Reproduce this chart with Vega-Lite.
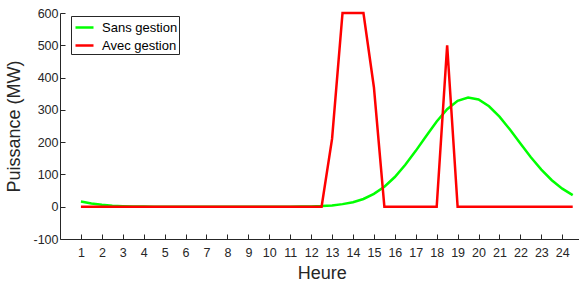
{
 "$schema": "https://vega.github.io/schema/vega-lite/v6.json",
 "width": 519, "height": 226,
 "autosize": {"type": "none"},
 "padding": {"left": 60, "top": 13, "right": 0, "bottom": 46},
 "background": "white",
 "config": {"view": {"stroke": null}, "font": "Liberation Sans"},
 "data": {"values": [
  {"h":1,"serie":"Sans gestion","p":16},{"h":1.5,"serie":"Sans gestion","p":10},{"h":2,"serie":"Sans gestion","p":6},{"h":2.5,"serie":"Sans gestion","p":3},{"h":3,"serie":"Sans gestion","p":1.5},{"h":3.5,"serie":"Sans gestion","p":0.7},{"h":4,"serie":"Sans gestion","p":0.3},{"h":4.5,"serie":"Sans gestion","p":0.1},{"h":5,"serie":"Sans gestion","p":0},{"h":5.5,"serie":"Sans gestion","p":0},{"h":6,"serie":"Sans gestion","p":0},{"h":6.5,"serie":"Sans gestion","p":0},{"h":7,"serie":"Sans gestion","p":0},{"h":7.5,"serie":"Sans gestion","p":0},{"h":8,"serie":"Sans gestion","p":0},{"h":8.5,"serie":"Sans gestion","p":0},{"h":9,"serie":"Sans gestion","p":0},{"h":9.5,"serie":"Sans gestion","p":0},{"h":10,"serie":"Sans gestion","p":0},{"h":10.5,"serie":"Sans gestion","p":0.1},{"h":11,"serie":"Sans gestion","p":0.2},{"h":11.5,"serie":"Sans gestion","p":0.4},{"h":12,"serie":"Sans gestion","p":1},{"h":12.5,"serie":"Sans gestion","p":2},{"h":13,"serie":"Sans gestion","p":4},{"h":13.5,"serie":"Sans gestion","p":8},{"h":14,"serie":"Sans gestion","p":14},{"h":14.5,"serie":"Sans gestion","p":24},{"h":15,"serie":"Sans gestion","p":40},{"h":15.5,"serie":"Sans gestion","p":62},{"h":16,"serie":"Sans gestion","p":92},{"h":16.5,"serie":"Sans gestion","p":130},{"h":17,"serie":"Sans gestion","p":173},{"h":17.5,"serie":"Sans gestion","p":219},{"h":18,"serie":"Sans gestion","p":264},{"h":18.5,"serie":"Sans gestion","p":302},{"h":19,"serie":"Sans gestion","p":328},{"h":19.5,"serie":"Sans gestion","p":338},{"h":20,"serie":"Sans gestion","p":332},{"h":20.5,"serie":"Sans gestion","p":311},{"h":21,"serie":"Sans gestion","p":279},{"h":21.5,"serie":"Sans gestion","p":239},{"h":22,"serie":"Sans gestion","p":196},{"h":22.5,"serie":"Sans gestion","p":153},{"h":23,"serie":"Sans gestion","p":115},{"h":23.5,"serie":"Sans gestion","p":82},{"h":24,"serie":"Sans gestion","p":56},{"h":24.5,"serie":"Sans gestion","p":36},
  {"h":1,"serie":"Avec gestion","p":0},{"h":1.5,"serie":"Avec gestion","p":0},{"h":2,"serie":"Avec gestion","p":0},{"h":2.5,"serie":"Avec gestion","p":0},{"h":3,"serie":"Avec gestion","p":0},{"h":3.5,"serie":"Avec gestion","p":0},{"h":4,"serie":"Avec gestion","p":0},{"h":4.5,"serie":"Avec gestion","p":0},{"h":5,"serie":"Avec gestion","p":0},{"h":5.5,"serie":"Avec gestion","p":0},{"h":6,"serie":"Avec gestion","p":0},{"h":6.5,"serie":"Avec gestion","p":0},{"h":7,"serie":"Avec gestion","p":0},{"h":7.5,"serie":"Avec gestion","p":0},{"h":8,"serie":"Avec gestion","p":0},{"h":8.5,"serie":"Avec gestion","p":0},{"h":9,"serie":"Avec gestion","p":0},{"h":9.5,"serie":"Avec gestion","p":0},{"h":10,"serie":"Avec gestion","p":0},{"h":10.5,"serie":"Avec gestion","p":0},{"h":11,"serie":"Avec gestion","p":0},{"h":11.5,"serie":"Avec gestion","p":0},{"h":12,"serie":"Avec gestion","p":0},{"h":12.5,"serie":"Avec gestion","p":0},{"h":13,"serie":"Avec gestion","p":210},{"h":13.5,"serie":"Avec gestion","p":600},{"h":14,"serie":"Avec gestion","p":600},{"h":14.5,"serie":"Avec gestion","p":600},{"h":15,"serie":"Avec gestion","p":370},{"h":15.5,"serie":"Avec gestion","p":0},{"h":16,"serie":"Avec gestion","p":0},{"h":16.5,"serie":"Avec gestion","p":0},{"h":17,"serie":"Avec gestion","p":0},{"h":17.5,"serie":"Avec gestion","p":0},{"h":18,"serie":"Avec gestion","p":0},{"h":18.5,"serie":"Avec gestion","p":500},{"h":19,"serie":"Avec gestion","p":0},{"h":19.5,"serie":"Avec gestion","p":0},{"h":20,"serie":"Avec gestion","p":0},{"h":20.5,"serie":"Avec gestion","p":0},{"h":21,"serie":"Avec gestion","p":0},{"h":21.5,"serie":"Avec gestion","p":0},{"h":22,"serie":"Avec gestion","p":0},{"h":22.5,"serie":"Avec gestion","p":0},{"h":23,"serie":"Avec gestion","p":0},{"h":23.5,"serie":"Avec gestion","p":0},{"h":24,"serie":"Avec gestion","p":0},{"h":24.5,"serie":"Avec gestion","p":0}
 ]},
 "encoding": {
  "x": {"field": "h", "type": "quantitative",
        "scale": {"domain": [0, 24.8], "nice": false, "zero": false},
        "axis": {"values": [1,2,3,4,5,6,7,8,9,10,11,12,13,14,15,16,17,18,19,20,21,22,23,24],
                 "grid": false, "title": "Heure", "titleFontSize": 18, "titleFontWeight": "normal", "titleColor": "#262626",
                 "titlePadding": 6, "titleX": 261.7, "titleAnchor": "middle",
                 "labelFontSize": 12.5, "labelColor": "#262626", "labelPadding": 12, "labelFlush": false, "labelOverlap": false,
                 "domainColor": "#262626", "tickColor": "#262626", "tickSize": -5, "domainWidth": 1}},
  "y": {"field": "p", "type": "quantitative",
        "scale": {"domain": [-100, 600], "nice": false, "zero": false},
        "axis": {"values": [-100,0,100,200,300,400,500,600], "labelExpr": "'' + datum.value",
                 "grid": false, "title": "Puissance (MW)", "titleFontSize": 18, "titleFontWeight": "normal", "titleColor": "#262626",
                 "titlePadding": 9,
                 "labelFontSize": 12.5, "labelColor": "#262626", "labelPadding": 7, "labelFlush": false, "labelOverlap": false,
                 "domainColor": "#262626", "tickColor": "#262626", "tickSize": -5, "domainWidth": 1}},
  "color": {"field": "serie", "type": "nominal",
            "scale": {"domain": ["Sans gestion", "Avec gestion"], "range": ["#00ff00", "#ff0000"]},
            "legend": {"orient": "none", "legendX": 11, "legendY": 3, "title": null,
                       "strokeColor": "#262626", "fillColor": "white", "padding": 1,
                       "symbolType": "stroke", "symbolSize": 324, "symbolStrokeWidth": 2.5, "symbolOffset": 2,
                       "labelFontSize": 13, "labelColor": "black", "rowPadding": -1, "labelOffset": 7}}
 },
 "layer": [
  {"transform": [{"filter": "datum.serie === 'Sans gestion'"}], "mark": {"type": "line", "strokeWidth": 2.5}},
  {"transform": [{"filter": "datum.serie === 'Avec gestion'"}], "mark": {"type": "line", "strokeWidth": 2.5}}
 ]
}
